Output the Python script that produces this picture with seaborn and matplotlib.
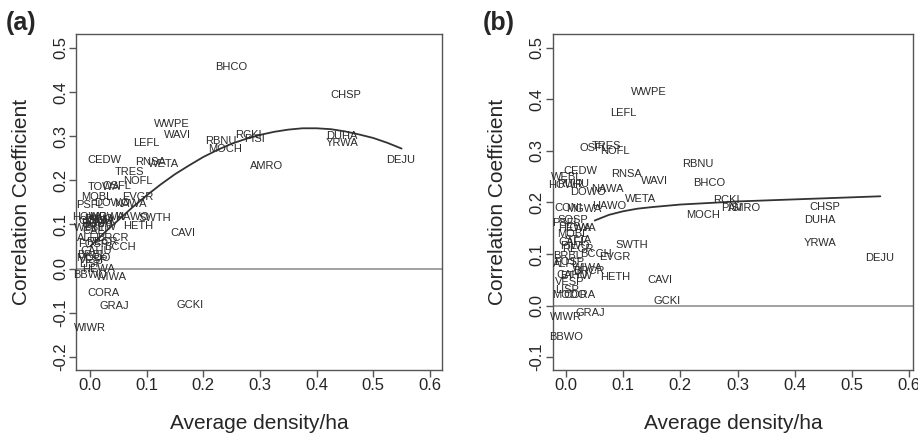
import numpy as np
import matplotlib
matplotlib.use("Agg")
import matplotlib.pyplot as plt
import seaborn as sns

# species codes, average density/ha (shared), correlation in panel a and panel b
species = ["BHCO", "CHSP", "WWPE", "WAVI", "LEFL", "RBNU", "MOCH", "RCKI", "PISI",
           "AMRO", "DUHA", "YRWA", "DEJU", "CEDW", "RNSA", "WETA", "TRES", "NOFL",
           "OSFL", "TOWA", "MOBL", "EVGR", "HAWO", "SWTH", "HETH", "CAVI", "GCKI",
           "GRAJ", "WIWR", "BBWO", "CORA", "BCCH", "BRCR", "PSFL", "DOWO", "NAWA",
           "PIWO", "VESP", "SOSP", "CONI", "MGWA", "HOWR", "RUHU", "WEBL", "BRBL",
           "STJA", "ALFL", "WIWA", "FOSP", "CAHU", "LISP", "HEWA", "RECR", "CAFI",
           "MODO", "BTYW"]
density = [0.250, 0.452, 0.145, 0.155, 0.100, 0.230, 0.239, 0.280, 0.290,
           0.312, 0.444, 0.444, 0.548, 0.025, 0.106, 0.130, 0.070, 0.085,
           0.048, 0.025, 0.012, 0.085, 0.075, 0.115, 0.085, 0.164, 0.177,
           0.042, 0.000, 0.000, 0.024, 0.053, 0.040, 0.000, 0.038, 0.072,
           0.015, 0.007, 0.012, 0.003, 0.030, 0.000, 0.012, 0.000, 0.002,
           0.020, 0.000, 0.038, 0.005, 0.010, 0.002, 0.015, 0.020, 0.008,
           0.005, 0.018]
corr_a = [0.456, 0.393, 0.327, 0.302, 0.284, 0.290, 0.272, 0.302, 0.294,
          0.232, 0.300, 0.285, 0.247, 0.245, 0.242, 0.238, 0.219, 0.198,
          0.187, 0.186, 0.163, 0.163, 0.116, 0.115, 0.097, 0.081, -0.083,
          -0.085, -0.134, -0.015, -0.055, 0.048, 0.070, 0.143, 0.148, 0.146,
          0.112, 0.020, 0.100, 0.108, 0.118, 0.118, 0.104, 0.092, 0.030,
          0.110, 0.070, -0.020, 0.055, 0.040, 0.010, 0.000, 0.060, 0.085,
          0.025, 0.095]
corr_b = [0.238, 0.191, 0.414, 0.241, 0.374, 0.274, 0.175, 0.204, 0.190,
          0.190, 0.166, 0.122, 0.093, 0.261, 0.256, 0.207, 0.309, 0.300,
          0.305, 0.150, 0.138, 0.094, 0.193, 0.118, 0.056, 0.050, 0.008,
          -0.014, -0.022, -0.061, 0.021, 0.100, 0.067, 0.160, 0.220, 0.227,
          0.116, 0.045, 0.166, 0.190, 0.188, 0.234, 0.236, 0.250, 0.096,
          0.128, 0.080, 0.072, 0.085, 0.060, 0.030, 0.150, 0.110, 0.124,
          0.021, 0.057]

# fitted curves
curve_a_x = [0.0, 0.025, 0.05, 0.075, 0.1, 0.125, 0.15, 0.175, 0.2, 0.225, 0.25, 0.275,
             0.3, 0.325, 0.35, 0.375, 0.4, 0.425, 0.45, 0.475, 0.5, 0.525, 0.55]
curve_a_y = [0.050, 0.081, 0.110, 0.139, 0.166, 0.191, 0.214, 0.234, 0.253, 0.269,
             0.283, 0.294, 0.303, 0.310, 0.315, 0.318, 0.318, 0.316, 0.311, 0.304,
             0.296, 0.285, 0.272]
curve_b_x = [0.05, 0.075, 0.1, 0.125, 0.15, 0.2, 0.25, 0.3, 0.35, 0.4, 0.45, 0.5, 0.55]
curve_b_y = [0.165, 0.176, 0.183, 0.188, 0.191, 0.196, 0.199, 0.202, 0.204, 0.206,
             0.208, 0.210, 0.212]

xticks = [0.0, 0.1, 0.2, 0.3, 0.4, 0.5, 0.6]
yticks_a = [-0.2, -0.1, 0.0, 0.1, 0.2, 0.3, 0.4, 0.5]
yticks_b = [-0.1, 0.0, 0.1, 0.2, 0.3, 0.4, 0.5]

sns.set_style("white")
plt.rcParams["font.family"] = ["Liberation Sans", "DejaVu Sans"]
plt.rcParams["axes.unicode_minus"] = False

fig = plt.figure(figsize=(9.18, 4.4), dpi=100)
ax_a = fig.add_axes([0.0833, 0.159, 0.398, 0.764])
ax_b = fig.add_axes([0.6024, 0.159, 0.392, 0.764])

panels = [
    (ax_a, corr_a, curve_a_x, curve_a_y, yticks_a, (-0.23, 0.532), (-0.024, 0.621), "(a)", 0.006),
    (ax_b, corr_b, curve_b_x, curve_b_y, yticks_b, (-0.125, 0.527), (-0.023, 0.607), "(b)", 0.526),
]

for ax, corr, cx, cy, yt, ylim, xlim, tag, tx in panels:
    ax.axhline(0, color="#9a9a9a", lw=1.3, zorder=1)
    sns.lineplot(x=cx, y=cy, ax=ax, color="#333333", lw=1.3, zorder=2)
    for name, x, y in zip(species, density, corr):
        ax.text(x, y, name, ha="center", va="center", fontsize=8,
                color="#2b2b2b", zorder=3)
    ax.set_xlim(*xlim)
    ax.set_ylim(*ylim)
    ax.set_xticks(xticks)
    ax.set_xticklabels([f"{v:.1f}" for v in xticks])
    ax.set_yticks(yt)
    ax.set_yticklabels([f"{v:.1f}" for v in yt], rotation=90, va="center")
    ax.tick_params(axis="both", direction="out", length=5, width=1,
                   color="#555555", labelsize=12, pad=1, left=True, bottom=True)
    for s in ax.spines.values():
        s.set_color("#555555")
        s.set_linewidth(1)
    ax.set_xlabel("Average density/ha", fontsize=15, labelpad=15)
    ax.set_ylabel("Correlation Coefficient", fontsize=15, labelpad=16)
    fig.text(tx, 0.975, tag, fontsize=18, fontweight="bold", ha="left", va="top")

fig.savefig("out.png", dpi=100)
plt.close(fig)
